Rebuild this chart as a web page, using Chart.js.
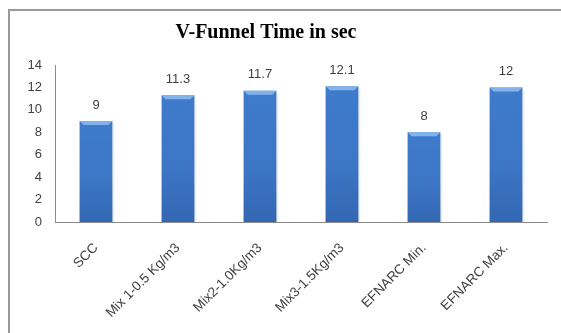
<!DOCTYPE html>
<html>
<head>
<meta charset="utf-8">
<script src="https://cdn.jsdelivr.net/npm/chart.js@4/dist/chart.umd.min.js"></script>
<style>
  html, body { margin: 0; padding: 0; background: #ffffff; }
  #wrap { position: relative; width: 561px; height: 333px; overflow: hidden; }
  #frame {
    position: absolute; left: 8px; top: 9px; width: 600px; height: 400px;
    border-left: 2px solid #9a9a9a; border-top: 2px solid #9a9a9a;
    box-sizing: border-box; pointer-events: none;
  }
  canvas { position: absolute; left: 0; top: 0; }
</style>
</head>
<body>
<div id="wrap">
  <canvas id="chart" width="561" height="333"></canvas>
  <div id="frame"></div>
</div>
<script>
// V-Funnel flow times (seconds)
const categories = ["SCC", "Mix 1-0.5 Kg/m3", "Mix2-1.0Kg/m3", "Mix3-1.5Kg/m3", "EFNARC Min.", "EFNARC Max."];
const funnelTimes = [9, 11.3, 11.7, 12.1, 8, 12];
const yTicks = [0, 2, 4, 6, 8, 10, 12, 14];
const chartTitle = "V-Funnel Time in sec";

const textColor = "#3f3f3f";
const axisColor = "#8a8a8a";

// Horizontal shading across each bar: narrow dark edges, bright body
function barFill(ctx) {
  const el = ctx.element;
  const c = ctx.chart.ctx;
  if (!el || el.width === undefined || !isFinite(el.x)) return "#3f7bcc";
  const left = el.x - el.width / 2;
  const g = c.createLinearGradient(left, 0, left + el.width, 0);
  g.addColorStop(0, "#2b5a9c");
  g.addColorStop(0.07, "#3c77c8");
  g.addColorStop(0.4, "#4887d8");
  g.addColorStop(0.9, "#3c78c8");
  g.addColorStop(1, "#284f8a");
  return g;
}

// Top bevel and darkening toward the base of each bar
const bevelPlugin = {
  id: "bevel",
  afterDatasetsDraw(chart) {
    const c = chart.ctx;
    const bottom = chart.chartArea.bottom;
    chart.getDatasetMeta(0).data.forEach(bar => {
      const l = bar.x - bar.width / 2, r = bar.x + bar.width / 2, t = bar.y, d = 4;
      c.save();
      const v = c.createLinearGradient(0, t, 0, bottom);
      v.addColorStop(0, "rgba(20,50,110,0)");
      v.addColorStop(0.6, "rgba(20,50,110,0.08)");
      v.addColorStop(1, "rgba(20,50,110,0.28)");
      c.fillStyle = v;
      c.fillRect(l, t, r - l, bottom - t);
      c.beginPath();
      c.moveTo(l, t); c.lineTo(r, t); c.lineTo(r - d, t + d); c.lineTo(l + d, t + d); c.closePath();
      c.fillStyle = "rgba(140,185,240,0.9)";
      c.fill();
      c.fillStyle = "rgba(0,0,0,0.06)";
      c.fillRect(r, t + 2, 2, bottom - t - 2);
      c.restore();
    });
  }
};

// Value labels above the bars and the chart heading
const textPlugin = {
  id: "texts",
  afterDatasetsDraw(chart) {
    const c = chart.ctx;
    const ds = chart.data.datasets[0];
    c.save();
    c.font = "13px 'Liberation Sans', Arial, sans-serif";
    c.fillStyle = textColor;
    c.textAlign = "center";
    c.textBaseline = "middle";
    chart.getDatasetMeta(0).data.forEach((bar, i) => {
      c.fillText(String(ds.data[i]), bar.x, bar.y - 16);
    });
    c.font = "bold 20px 'Liberation Serif', 'Times New Roman', serif";
    c.fillStyle = "#000000";
    c.fillText(chartTitle, 266, 33);
    c.restore();
  }
};

new Chart(document.getElementById("chart"), {
  type: "bar",
  data: {
    labels: categories,
    datasets: [{
      data: funnelTimes,
      backgroundColor: barFill,
      borderWidth: 0,
      barPercentage: 0.4,
      categoryPercentage: 1.0
    }]
  },
  options: {
    responsive: false,
    animation: false,
    layout: { padding: { left: 0, right: 14, top: 65, bottom: 0 } },
    plugins: {
      legend: { display: false },
      tooltip: { enabled: false },
      title: { display: false }
    },
    scales: {
      x: {
        grid: { display: false, drawTicks: false },
        border: { display: true, color: axisColor, width: 1 },
        ticks: {
          color: textColor,
          font: { family: "'Liberation Sans', Arial, sans-serif", size: 13.5 },
          minRotation: 45, maxRotation: 45,
          padding: 18,
          autoSkip: false
        },
        afterFit(scale) { scale.height = 111; }
      },
      y: {
        min: 0, max: 14,
        grid: { display: false, drawOnChartArea: false, drawTicks: true, tickLength: 5, color: axisColor },
        border: { display: true, color: axisColor, width: 1 },
        afterBuildTicks(scale) { scale.ticks = yTicks.map(v => ({ value: v })); },
        ticks: {
          color: textColor,
          font: { family: "'Liberation Sans', Arial, sans-serif", size: 13 },
          padding: 8
        },
        afterFit(scale) { scale.width = 55; }
      }
    }
  },
  plugins: [bevelPlugin, textPlugin]
});
</script>
</body>
</html>
